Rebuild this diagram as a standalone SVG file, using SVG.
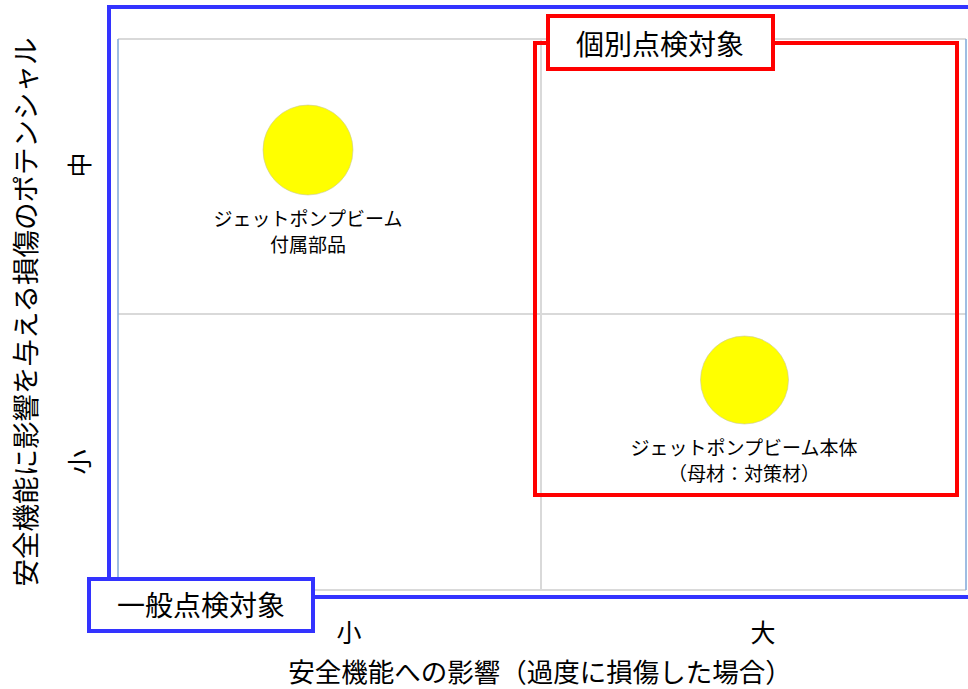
<svg xmlns="http://www.w3.org/2000/svg" width="968" height="689" viewBox="0 0 968 689">
<style>
  .t { font-family: "Noto Sans CJK JP", "Noto Sans", sans-serif; fill: #000; text-anchor: middle; }
  .grid { stroke: #d9d9d9; stroke-width: 2; fill: none; }
  .plotedge { stroke: #7fa7d9; stroke-width: 1.5; fill: none; }
  .dot { fill: #ffff00; stroke: #c8c8a0; stroke-width: 0.6; }
  .blue { stroke: #3333ff; stroke-width: 4; }
  .red { stroke: #ff0000; stroke-width: 4; }
</style>
<rect width="968" height="689" fill="#ffffff"/>
<g id="chart">
  <line class="grid" x1="118" y1="39" x2="966" y2="39"/>
  <line class="grid" x1="118" y1="314" x2="966" y2="314"/>
  <line class="grid" x1="118" y1="590" x2="966" y2="590"/>
  <line class="grid" x1="541" y1="39" x2="541" y2="590"/>
  <line class="plotedge" x1="118" y1="39" x2="118" y2="590"/>
  <line class="plotedge" x1="966" y1="39" x2="966" y2="590"/>
</g>
<g id="group-general-frame">
  <rect class="blue" x="109" y="7" width="870" height="590" fill="none"/>
</g>
<g id="group-individual-frame">
  <rect class="red" x="535" y="43" width="422" height="452" fill="none"/>
</g>
<g id="connectors"></g>
<g id="jp-attachments">
  <circle class="dot" cx="308" cy="150" r="45"/>
  <text class="t" x="308" y="226" font-size="19">ジェットポンプビーム</text>
  <text class="t" x="308" y="252" font-size="19">付属部品</text>
</g>
<g id="jp-body">
  <circle class="dot" cx="744.5" cy="380" r="44"/>
  <text class="t" x="744" y="455" font-size="19">ジェットポンプビーム本体</text>
  <text class="t" x="744" y="481" font-size="19">（母材：対策材）</text>
</g>
<g id="label-individual">
  <rect class="red" x="548" y="16" width="225" height="53" fill="#ffffff"/>
  <text class="t" x="660" y="55" font-size="28">個別点検対象</text>
</g>
<g id="label-general">
  <rect class="blue" x="89" y="579" width="224" height="52" fill="#ffffff"/>
  <text class="t" x="201" y="616" font-size="28">一般点検対象</text>
</g>
<g id="axes">
  <text class="t" x="349" y="642" font-size="25">小</text>
  <text class="t" x="763" y="642" font-size="25">大</text>
  <text class="t" x="540" y="682" font-size="26.5">安全機能への影響（過度に損傷した場合）</text>
  <text class="t" font-size="25" transform="translate(89,165) rotate(-90)">中</text>
  <text class="t" font-size="25" transform="translate(89,462) rotate(-90)">小</text>
  <text class="t" font-size="27.5" transform="translate(36,312) rotate(-90)">安全機能に影響を与える損傷のポテンシャル</text>
</g>
</svg>
